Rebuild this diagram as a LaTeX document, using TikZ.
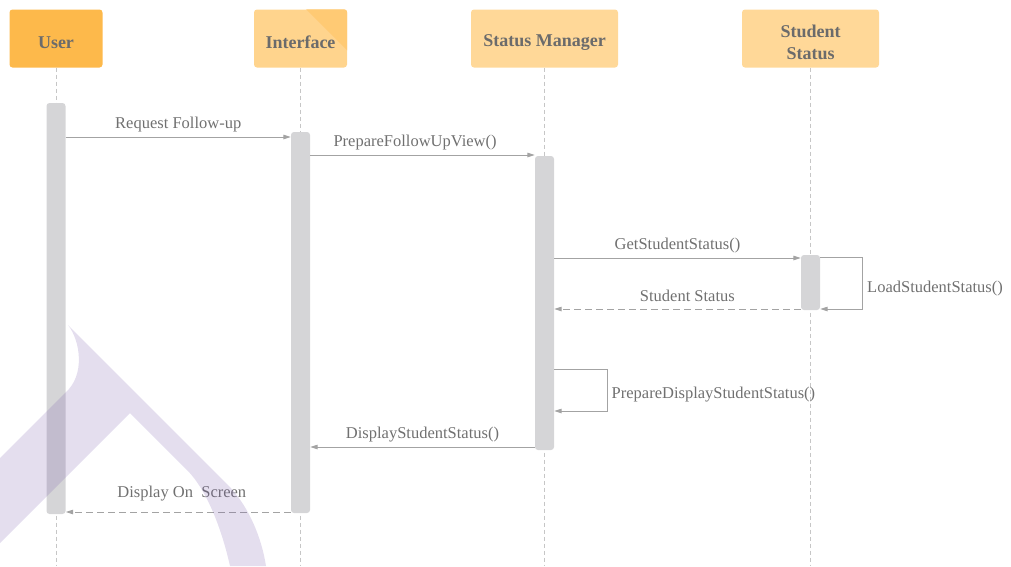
\documentclass[tikz,border=0pt]{standalone}
\usepackage{fontspec}
\setmainfont{Liberation Serif}
\usetikzlibrary{arrows.meta}

\definecolor{hdrUser}{HTML}{FDB94B}
\definecolor{hdrFill}{HTML}{FFD898}
\definecolor{hdrInt}{HTML}{FFD48D}
\definecolor{hdrCorner}{HTML}{FFCA74}
\definecolor{hdrText}{HTML}{6B6B6B}
\definecolor{barFill}{HTML}{D5D5D7}
\definecolor{msgLine}{HTML}{A3A3A3}
\definecolor{msgText}{HTML}{707070}
\definecolor{lifeLine}{HTML}{C6C6C6}
\definecolor{wmark}{RGB}{120,90,170}

\tikzset{
  hdrbox/.style={rectangle, rounded corners=3pt, inner sep=0pt, minimum height=58pt},
  hdrtext/.style={inner sep=0pt, text=hdrText, align=center,
    font=\fontsize{18}{22}\selectfont\bfseries},
  actbar/.style={rectangle, rounded corners=3pt, fill=barFill, inner sep=0pt, minimum width=19pt},
  lifeline/.style={draw=lifeLine, line width=1pt, dash pattern=on 4pt off 3pt},
  msg/.style={draw=msgLine, line width=1pt, -{Triangle[length=7.5pt,width=4.5pt]}},
  reply/.style={msg, dash pattern=on 7pt off 4pt},
  lbl/.style={anchor=base, yshift=8.5pt, inner sep=0pt, text=msgText,
    font=\fontsize{16.5}{19}\selectfont},
  looplbl/.style={anchor=base west, inner sep=0pt, text=msgText,
    font=\fontsize{16.5}{19}\selectfont},
}

\begin{document}
\begin{tikzpicture}[x=1pt, y=-1pt]
\useasboundingbox (0,0) rectangle (1011,566);
\coordinate (bottom) at (0,566);

% participant header boxes
\node[hdrbox, fill=hdrUser, minimum width=93pt] (user) at (56,38.5) {};
\node[hdrbox, fill=hdrInt, minimum width=93pt] (intf) at (300.5,38.5) {};
\begin{scope}
  \clip[rounded corners=3pt] (intf.south west) rectangle (intf.north east);
  \fill[hdrCorner] (305,8) -- (349,8) -- (349,52) -- cycle;
\end{scope}
\node[hdrbox, fill=hdrFill, minimum width=147pt] (mgr) at (544.5,38.5) {};
\node[hdrbox, fill=hdrFill, minimum width=137pt] (stud) at (810.5,38.5) {};

% header captions, set a little below the box centre
\node[hdrtext] (userT) at ([yshift=-4pt]user.center) {User};
\node[hdrtext] (intfT) at ([yshift=-4pt]intf.center) {Interface};
\node[hdrtext] (mgrT) at ([yshift=-4pt]mgr.center) {Status Manager};
\node[hdrtext] (studT) at ([yshift=-4pt]stud.center) {Student\\Status};

% lifelines
\foreach \p in {user, intf, mgr, stud}
  \draw[lifeline] (\p.south) -- (\p.south |- bottom);

% activation bars
\node[actbar, minimum height=411pt] (ubar) at (56,308.5) {};
\node[actbar, minimum height=381pt] (ibar) at (300.5,322.5) {};
\node[actbar, minimum height=294pt] (mbar) at (544.5,303) {};
\node[actbar, minimum height=55pt]  (sbar) at (810.5,282.5) {};

% message rows
\coordinate (r1) at (0,137);
\coordinate (r2) at (0,155);
\coordinate (r3) at (0,258);
\coordinate (r4a) at (0,257);
\coordinate (r4b) at (0,309);
\coordinate (r5) at (0,309);
\coordinate (r6a) at (0,369);
\coordinate (r6b) at (0,411);
\coordinate (r7) at (0,447);
\coordinate (r8) at (0,512);

\draw[msg] (ubar.east |- r1) -- node[lbl] {Request Follow-up} (ibar.west |- r1);
\draw[msg] (ibar.east |- r2) -- node[lbl, pos=0.467] {PrepareFollowUpView()} (mbar.west |- r2);
\draw[msg] (mbar.east |- r3) -- node[lbl] {GetStudentStatus()} (sbar.west |- r3);
\draw[msg] (sbar.east |- r4a) -- ++(42,0)
  -- node[looplbl, xshift=4.5pt, yshift=-9.5pt] {LoadStudentStatus()} ++(0,52)
  -- (sbar.east |- r4b);
\draw[reply] (sbar.west |- r5) -- node[lbl, pos=0.46, yshift=-1pt] {Student Status} (mbar.east |- r5);
\draw[msg] (mbar.east |- r6a) -- ++(53,0)
  -- node[looplbl, xshift=4pt, yshift=-8.5pt] {PrepareDisplayStudentStatus()} ++(0,42)
  -- (mbar.east |- r6b);
\draw[msg] (mbar.west |- r7) -- node[lbl] {DisplayStudentStatus()} (ibar.east |- r7);
\draw[reply] (ibar.west |- r8) -- node[lbl, pos=0.484, yshift=6pt] {Display On\ \ Screen} (ubar.east |- r8);

% translucent logo mark in the lower left
\fill[wmark, fill opacity=0.2]
  (68,325) .. controls (80,340) and (86,375) .. (65,393)
  -- (0,458) -- (0,543) -- (130,413) -- (187,470)
  .. controls (207,490) and (222,530) .. (230,566)
  -- (266,566)
  .. controls (262,540) and (250,507) .. (227,484)
  -- cycle;
\end{tikzpicture}
\end{document}
